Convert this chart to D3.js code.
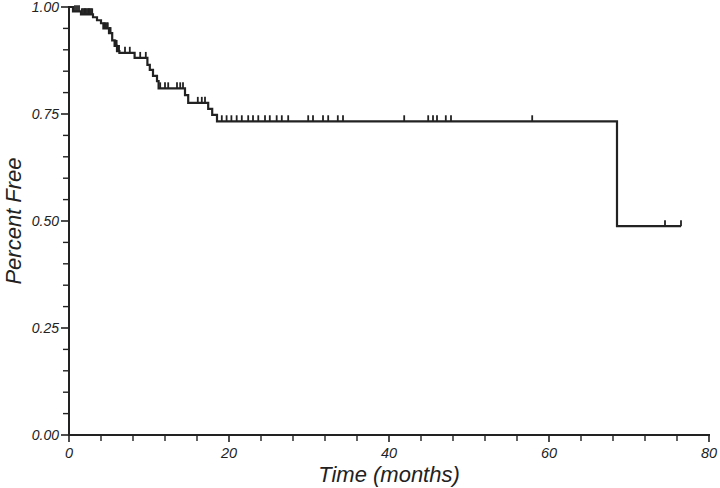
<!DOCTYPE html>
<html><head><meta charset="utf-8">
<script src="https://cdn.jsdelivr.net/npm/d3@7"></script>
<style>
body{margin:0;background:#fff;}
svg text{font-family:"Liberation Sans",Arial,sans-serif;font-style:italic;fill:#222;}
</style></head>
<body><svg id="c" width="720" height="488"></svg>
<script>
// Kaplan-Meier step data (event times in months, survival after event)
const eventTimes = [0.5, 1.5, 3.0, 3.5, 4.0, 4.3, 5.0, 5.4, 5.7, 6.0, 6.3, 8.2, 9.8, 10.1, 10.5, 11.0, 11.2, 14.5, 14.9, 17.4, 17.9, 18.5, 68.5];
const survival   = [0.990, 0.983, 0.976, 0.969, 0.962, 0.950, 0.939, 0.922, 0.909, 0.897, 0.893, 0.881, 0.865, 0.853, 0.839, 0.827, 0.810, 0.794, 0.776, 0.762, 0.748, 0.733, 0.488];
const censorTimes = [0.75, 1.0, 1.25, 1.6, 1.75, 1.9, 2.0, 2.1, 2.25, 2.4, 2.5, 2.6, 2.75, 2.9,
  4.4, 4.5, 4.6, 4.75, 4.85, 5.1, 5.2, 5.75, 5.8, 5.85, 5.9, 5.95, 6.05, 6.1, 6.15, 6.2, 6.25,
  7.0, 7.6, 8.9, 9.6,
  11.4, 12.0, 12.4, 13.5, 13.9, 14.25, 16.1, 16.6, 17.0,
  19.1, 19.7, 20.3, 20.96, 21.6, 22.4, 23.0, 23.66, 24.5, 25.1, 25.96, 26.6, 27.4,
  29.9, 30.5, 31.75, 32.4, 33.6, 34.25, 41.9, 44.9, 45.5, 46.0, 47.1, 47.75, 57.9, 74.5, 76.5];
const endTime = 76.5;
const xTicks = [0, 20, 40, 60, 80];
const yTicks = [0, 0.25, 0.5, 0.75, 1.0];

const svg = d3.select("#c");
const m = {left: 69, top: 7, right: 11, bottom: 53};
const W = 720, H = 488;
const x = d3.scaleLinear().domain([0, 80]).range([m.left, W - m.right]);
const y = d3.scaleLinear().domain([0, 1]).range([H - m.bottom, m.top]);
const col = "#222";

// minor ticks
const xMinor = d3.range(0, 81, 4).filter(v => v % 20 !== 0);
const yMinor = d3.range(0, 101, 5).map(v => v / 100).filter(v => Math.round(v * 100) % 25 !== 0);

const gx = svg.append("g").attr("transform", `translate(0,${y(0)})`);
gx.append("line").attr("x1", x(0) - 1).attr("x2", x(80) + 1).attr("stroke", col).attr("stroke-width", 2);
gx.selectAll(".mn").data(xMinor).join("line").attr("x1", d => x(d)).attr("x2", d => x(d)).attr("y1", 0).attr("y2", 6).attr("stroke", col).attr("stroke-width", 1.4);
gx.selectAll(".mj").data(xTicks).join("line").attr("x1", d => x(d)).attr("x2", d => x(d)).attr("y1", 0).attr("y2", 7).attr("stroke", col).attr("stroke-width", 1.6);
gx.selectAll("text").data(xTicks).join("text").attr("x", d => x(d)).attr("y", 23).attr("text-anchor", "middle").attr("font-size", 14.5).text(d => d);

const gy = svg.append("g").attr("transform", `translate(${x(0)},0)`);
gy.append("line").attr("y1", y(0) + 1).attr("y2", y(1) - 1).attr("stroke", col).attr("stroke-width", 2);
gy.selectAll(".mn").data(yMinor).join("line").attr("y1", d => y(d)).attr("y2", d => y(d)).attr("x1", 0).attr("x2", -6).attr("stroke", col).attr("stroke-width", 1.4);
gy.selectAll(".mj").data(yTicks).join("line").attr("y1", d => y(d)).attr("y2", d => y(d)).attr("x1", 0).attr("x2", -8).attr("stroke", col).attr("stroke-width", 1.6);
gy.selectAll("text").data(yTicks).join("text").attr("x", -10).attr("y", d => y(d) + 5).attr("text-anchor", "end").attr("font-size", 14).text(d => d.toFixed(2));

svg.append("text").attr("x", (x(0) + x(80)) / 2).attr("y", 482).attr("text-anchor", "middle").attr("font-size", 22).text("Time (months)");
svg.append("text").attr("transform", `translate(21,${(y(0) + y(1)) / 2}) rotate(-90)`).attr("text-anchor", "middle").attr("font-size", 22).text("Percent Free");

// KM curve
const pts = [[0, 1]].concat(eventTimes.map((t, i) => [t, survival[i]]));
pts.push([endTime, survival[survival.length - 1]]);
const line = d3.line().x(d => x(d[0])).y(d => y(d[1])).curve(d3.curveStepAfter);
svg.append("path").attr("d", line(pts)).attr("fill", "none").attr("stroke", col).attr("stroke-width", 2.2);

function survAt(t) {
  let s = 1;
  for (let i = 0; i < eventTimes.length; i++) if (eventTimes[i] <= t) s = survival[i];
  return s;
}
svg.selectAll(".cens").data(censorTimes).join("line")
  .attr("x1", d => x(d)).attr("x2", d => x(d))
  .attr("y1", d => y(survAt(d))).attr("y2", d => y(survAt(d)) - 6)
  .attr("stroke", col).attr("stroke-width", 1.8);
</script></body></html>
